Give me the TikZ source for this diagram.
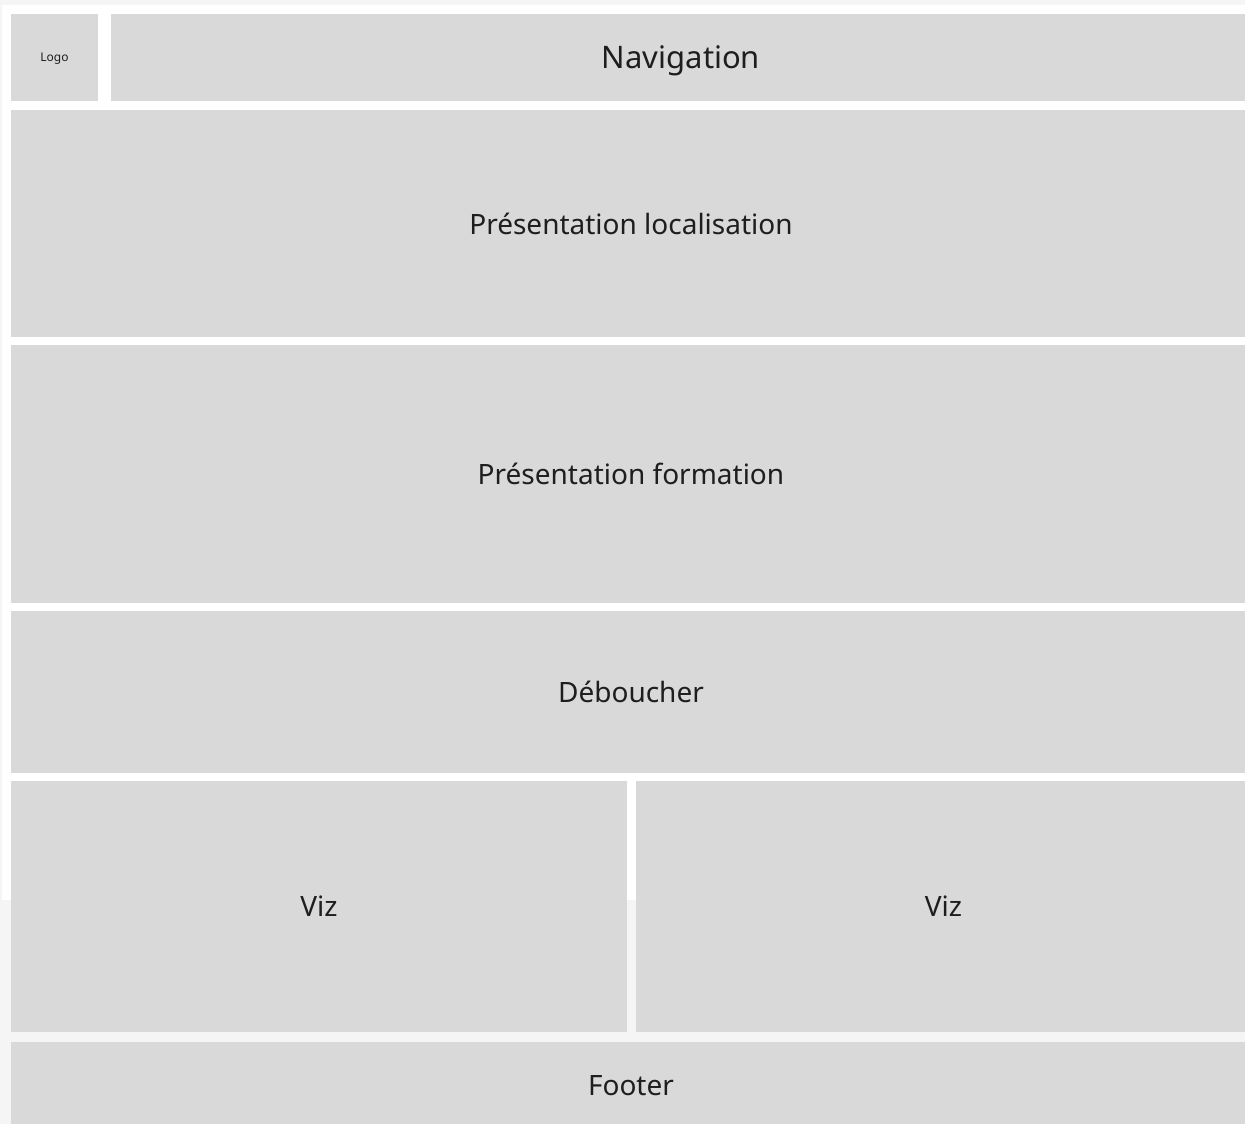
\documentclass[tikz,border=0pt]{standalone}
\usepackage{fontspec}
\setmainfont{Noto Sans}
\definecolor{boxgray}{HTML}{D9D9D9}
\definecolor{pagegray}{HTML}{F5F5F5}
\definecolor{inkgray}{HTML}{1E1E1E}

\begin{document}
\begin{tikzpicture}[x=1pt,y=-1pt,
  block/.style={fill=boxgray,draw=none,inner sep=0pt,text=inkgray,
                font=\fontsize{28}{33}\selectfont},
  small/.style={font=\fontsize{12}{14}\selectfont}]
  % page and frame
  \fill[pagegray] (0,0) rectangle (1245,1124);
  \fill[white] (2,5) rectangle (1245,900);
  \useasboundingbox (0,0) rectangle (1245,1124);
  % header
  \node[block, small, minimum width=87pt, minimum height=87pt]      (L)  at (54.5,57.5)  {\raisebox{-1.5pt}[\height][\depth]{Logo}};
  \node[block, minimum width=1134pt, minimum height=87pt,
        font=\fontsize{31}{37}\selectfont]                           (N)  at (678,57.5)   {\hspace*{6pt}\raisebox{-3.5pt}[\height][\depth]{Navigation}};
  % sections
  \node[block, minimum width=1234pt, minimum height=227pt]          (PL) at (628,223.5)  {\hspace*{6pt}Présentation localisation};
  \node[block, minimum width=1234pt, minimum height=258pt]          (PF) at (628,474)    {\hspace*{6pt}Présentation formation};
  \node[block, minimum width=1234pt, minimum height=162pt]          (D)  at (628,692)    {\hspace*{6pt}Déboucher};
  \node[block, minimum width=616pt, minimum height=251pt]           (V1) at (319,906.5)  {Viz};
  \node[block, minimum width=609pt, minimum height=251pt]           (V2) at (940.5,906.5) {\hspace*{6pt}Viz};
  \node[block, minimum width=1234pt, minimum height=82pt]           (F)  at (628,1083)   {\hspace*{6pt}\raisebox{-3pt}[\height][\depth]{Footer}};
\end{tikzpicture}
\end{document}
